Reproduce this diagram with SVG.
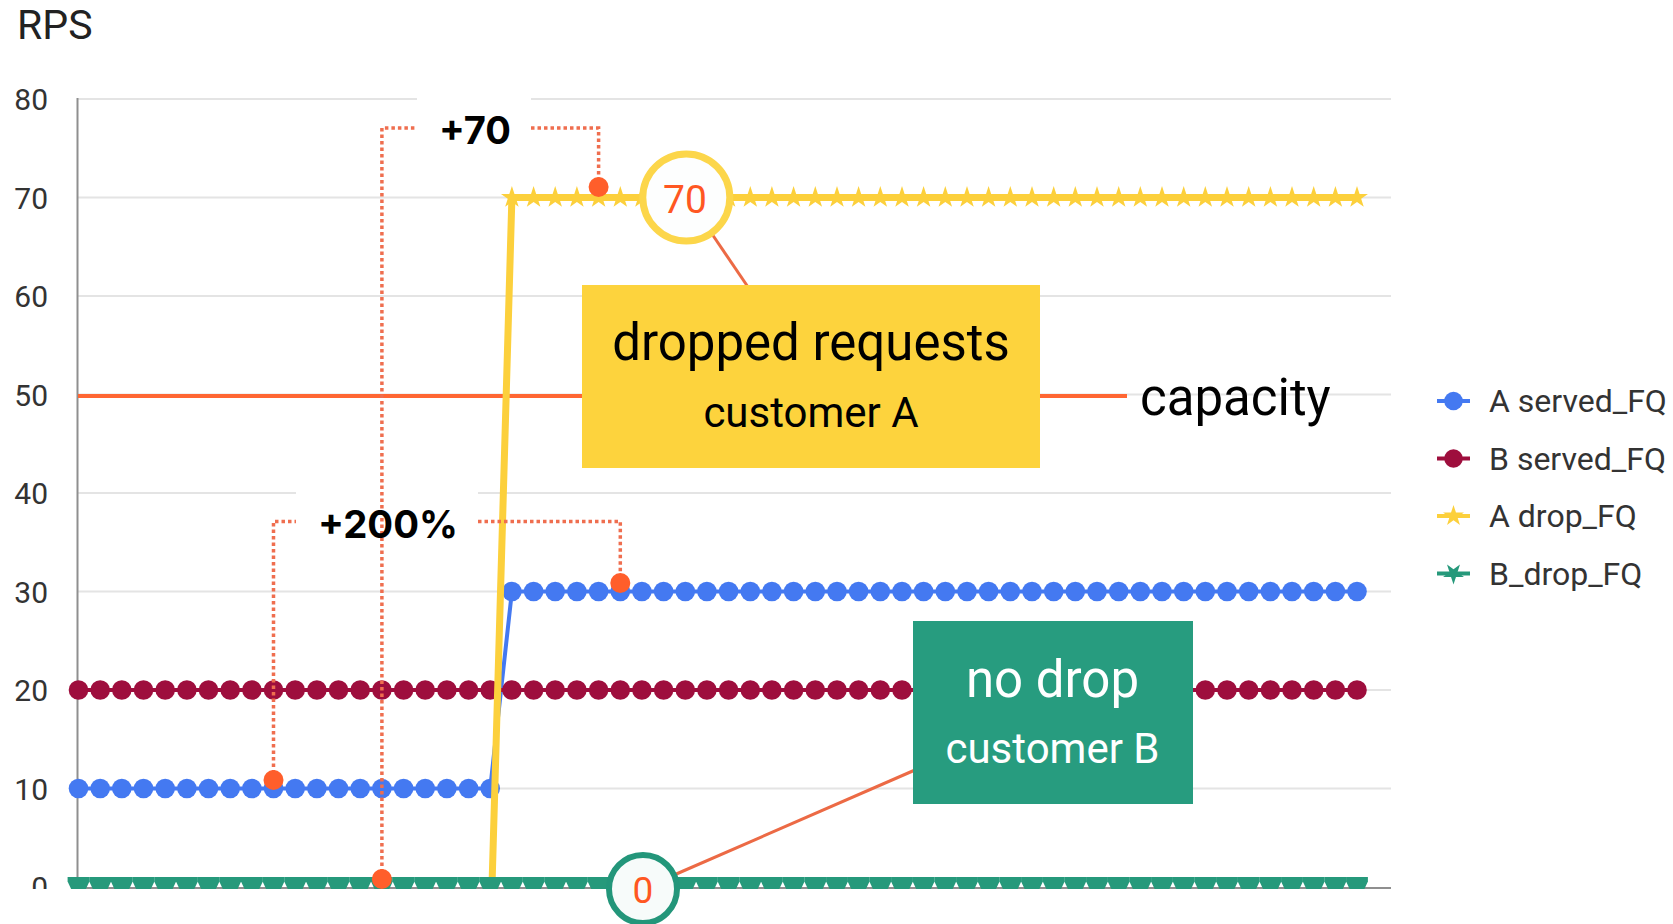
<svg xmlns="http://www.w3.org/2000/svg" xmlns:xlink="http://www.w3.org/1999/xlink" width="1673" height="924" viewBox="0 0 1673 924">
  <style>
    .grid { stroke: #e4e4e4; stroke-width: 2; }
    .axis { stroke: #8f8f8f; stroke-width: 2; }
    .tick { font-family: Roboto, "Liberation Sans", sans-serif; font-size: 30px; fill: #333; text-anchor: end; }
    .leg { font-family: Roboto, "Liberation Sans", sans-serif; font-size: 32px; fill: #333; }
    .big { font-family: Roboto, "Liberation Sans", sans-serif; font-size: 51px; text-anchor: middle; }
    .sub { font-family: Roboto, "Liberation Sans", sans-serif; font-size: 42px; text-anchor: middle; }
    .delta { font-family: Inter, "Open Sans", "Liberation Sans", sans-serif; font-size: 38px; font-weight: 700; fill: #000; }
    .dotted { fill: none; stroke: #ef6e4f; stroke-width: 3.5; stroke-dasharray: 3.5 3; }
    .leader { stroke: #ec6a45; stroke-width: 3; }
    .pin { fill: #ff5e2b; }
    .sA { stroke: #4479f1; fill: none; stroke-width: 4; }
    .sB { stroke: #9e0e3d; fill: none; stroke-width: 4; }
    .dA { stroke: #fcd03c; fill: none; stroke-width: 7; }
  </style>
  <defs>
    <circle id="dotA" r="9.8" fill="#4479f1"/>
    <circle id="dotB" r="9.8" fill="#9e0e3d"/>
    <path id="star" d="M0,-11.5 L2.57,-3.55 L10.94,-3.55 L4.16,1.36 L6.76,9.3 L0,4.39 L-6.76,9.3 L-4.16,1.36 L-10.94,-3.55 L-2.57,-3.55 Z" fill="#fcd03c"/>
    <path id="star11" d="M0,-11 L2.47,-3.4 L10.46,-3.4 L3.98,1.3 L6.47,8.9 L0,4.2 L-6.47,8.9 L-3.98,1.3 L-10.46,-3.4 L-2.47,-3.4 Z"/>
    <path id="wedge" d="M-10.9,-10 L10.9,-10 L10.9,-5.5 L7.4,2 L-7.4,2 L-10.9,-5.5 Z" fill="#26997b"/>
    <clipPath id="plotClip"><rect x="0" y="0" width="1673" height="889"/></clipPath>
  </defs>

  <rect width="1673" height="924" fill="#fff"/>

  <!-- axes, grid and tick labels -->
  <g id="axes">
    <text x="17" y="39" font-family="Roboto, 'Liberation Sans', sans-serif" font-size="41" fill="#222">RPS</text>
    <g class="grid">
      <line x1="78" y1="99" x2="1391" y2="99"/>
      <line x1="78" y1="197.5" x2="1391" y2="197.5"/>
      <line x1="78" y1="296" x2="1391" y2="296"/>
      <line x1="78" y1="394.5" x2="1391" y2="394.5"/>
      <line x1="78" y1="493" x2="1391" y2="493"/>
      <line x1="78" y1="591.5" x2="1391" y2="591.5"/>
      <line x1="78" y1="690" x2="1391" y2="690"/>
      <line x1="78" y1="788.5" x2="1391" y2="788.5"/>
    </g>
    <line class="axis" x1="77.5" y1="98" x2="77.5" y2="888"/>
    <line class="axis" x1="77" y1="888" x2="1391" y2="888"/>
    <text class="tick" x="48" y="110">80</text>
    <text class="tick" x="48" y="208.5">70</text>
    <text class="tick" x="48" y="307">60</text>
    <text class="tick" x="48" y="405.5">50</text>
    <text class="tick" x="48" y="504">40</text>
    <text class="tick" x="48" y="602.5">30</text>
    <text class="tick" x="48" y="701">20</text>
    <text class="tick" x="48" y="799.5">10</text>
    <text class="tick" x="48" y="898" clip-path="url(#plotClip)">0</text>
  </g>

  <!-- capacity threshold -->
  <g id="capacity">
    <line x1="78" y1="396" x2="1127" y2="396" stroke="#ff6633" stroke-width="4"/>
    <text x="1140" y="415" font-family="Roboto, 'Liberation Sans', sans-serif" font-size="51" fill="#000">capacity</text>
  </g>

  <!-- blank backing behind the delta labels -->
  <rect x="417" y="92" width="114" height="56" fill="#fff"/>
  <rect x="296" y="486" width="182" height="56" fill="#fff"/>

  <!-- data series -->
  <g id="series" clip-path="url(#plotClip)">
    <g id="series-a-served">
      <polyline class="sA" points="78.5,788.5 490.2,788.5 511.9,591.5 1357,591.5"/>
      <use href="#dotA" x="78.5" y="788.5"/><use href="#dotA" x="100.2" y="788.5"/><use href="#dotA" x="121.8" y="788.5"/><use href="#dotA" x="143.5" y="788.5"/><use href="#dotA" x="165.2" y="788.5"/>
      <use href="#dotA" x="186.9" y="788.5"/><use href="#dotA" x="208.5" y="788.5"/><use href="#dotA" x="230.2" y="788.5"/><use href="#dotA" x="251.9" y="788.5"/><use href="#dotA" x="273.5" y="788.5"/>
      <use href="#dotA" x="295.2" y="788.5"/><use href="#dotA" x="316.9" y="788.5"/><use href="#dotA" x="338.5" y="788.5"/><use href="#dotA" x="360.2" y="788.5"/><use href="#dotA" x="381.9" y="788.5"/>
      <use href="#dotA" x="403.6" y="788.5"/><use href="#dotA" x="425.2" y="788.5"/><use href="#dotA" x="446.9" y="788.5"/><use href="#dotA" x="468.6" y="788.5"/><use href="#dotA" x="490.2" y="788.5"/>
      <use href="#dotA" x="511.9" y="591.5"/><use href="#dotA" x="533.6" y="591.5"/><use href="#dotA" x="555.2" y="591.5"/><use href="#dotA" x="576.9" y="591.5"/><use href="#dotA" x="598.6" y="591.5"/>
      <use href="#dotA" x="620.3" y="591.5"/><use href="#dotA" x="641.9" y="591.5"/><use href="#dotA" x="663.6" y="591.5"/><use href="#dotA" x="685.3" y="591.5"/><use href="#dotA" x="706.9" y="591.5"/>
      <use href="#dotA" x="728.6" y="591.5"/><use href="#dotA" x="750.3" y="591.5"/><use href="#dotA" x="771.9" y="591.5"/><use href="#dotA" x="793.6" y="591.5"/><use href="#dotA" x="815.3" y="591.5"/>
      <use href="#dotA" x="837" y="591.5"/><use href="#dotA" x="858.6" y="591.5"/><use href="#dotA" x="880.3" y="591.5"/><use href="#dotA" x="902" y="591.5"/><use href="#dotA" x="923.6" y="591.5"/>
      <use href="#dotA" x="945.3" y="591.5"/><use href="#dotA" x="967" y="591.5"/><use href="#dotA" x="988.6" y="591.5"/><use href="#dotA" x="1010.3" y="591.5"/><use href="#dotA" x="1032" y="591.5"/>
      <use href="#dotA" x="1053.7" y="591.5"/><use href="#dotA" x="1075.3" y="591.5"/><use href="#dotA" x="1097" y="591.5"/><use href="#dotA" x="1118.7" y="591.5"/><use href="#dotA" x="1140.3" y="591.5"/>
      <use href="#dotA" x="1162" y="591.5"/><use href="#dotA" x="1183.7" y="591.5"/><use href="#dotA" x="1205.3" y="591.5"/><use href="#dotA" x="1227" y="591.5"/><use href="#dotA" x="1248.7" y="591.5"/>
      <use href="#dotA" x="1270.4" y="591.5"/><use href="#dotA" x="1292" y="591.5"/><use href="#dotA" x="1313.7" y="591.5"/><use href="#dotA" x="1335.4" y="591.5"/><use href="#dotA" x="1357" y="591.5"/>
    </g>
    <g id="series-b-served">
      <polyline class="sB" points="78.5,690 1357,690"/>
      <use href="#dotB" x="78.5" y="690"/><use href="#dotB" x="100.2" y="690"/><use href="#dotB" x="121.8" y="690"/><use href="#dotB" x="143.5" y="690"/><use href="#dotB" x="165.2" y="690"/>
      <use href="#dotB" x="186.9" y="690"/><use href="#dotB" x="208.5" y="690"/><use href="#dotB" x="230.2" y="690"/><use href="#dotB" x="251.9" y="690"/><use href="#dotB" x="273.5" y="690"/>
      <use href="#dotB" x="295.2" y="690"/><use href="#dotB" x="316.9" y="690"/><use href="#dotB" x="338.5" y="690"/><use href="#dotB" x="360.2" y="690"/><use href="#dotB" x="381.9" y="690"/>
      <use href="#dotB" x="403.6" y="690"/><use href="#dotB" x="425.2" y="690"/><use href="#dotB" x="446.9" y="690"/><use href="#dotB" x="468.6" y="690"/><use href="#dotB" x="490.2" y="690"/>
      <use href="#dotB" x="511.9" y="690"/><use href="#dotB" x="533.6" y="690"/><use href="#dotB" x="555.2" y="690"/><use href="#dotB" x="576.9" y="690"/><use href="#dotB" x="598.6" y="690"/>
      <use href="#dotB" x="620.3" y="690"/><use href="#dotB" x="641.9" y="690"/><use href="#dotB" x="663.6" y="690"/><use href="#dotB" x="685.3" y="690"/><use href="#dotB" x="706.9" y="690"/>
      <use href="#dotB" x="728.6" y="690"/><use href="#dotB" x="750.3" y="690"/><use href="#dotB" x="771.9" y="690"/><use href="#dotB" x="793.6" y="690"/><use href="#dotB" x="815.3" y="690"/>
      <use href="#dotB" x="837" y="690"/><use href="#dotB" x="858.6" y="690"/><use href="#dotB" x="880.3" y="690"/><use href="#dotB" x="902" y="690"/><use href="#dotB" x="923.6" y="690"/>
      <use href="#dotB" x="945.3" y="690"/><use href="#dotB" x="967" y="690"/><use href="#dotB" x="988.6" y="690"/><use href="#dotB" x="1010.3" y="690"/><use href="#dotB" x="1032" y="690"/>
      <use href="#dotB" x="1053.7" y="690"/><use href="#dotB" x="1075.3" y="690"/><use href="#dotB" x="1097" y="690"/><use href="#dotB" x="1118.7" y="690"/><use href="#dotB" x="1140.3" y="690"/>
      <use href="#dotB" x="1162" y="690"/><use href="#dotB" x="1183.7" y="690"/><use href="#dotB" x="1205.3" y="690"/><use href="#dotB" x="1227" y="690"/><use href="#dotB" x="1248.7" y="690"/>
      <use href="#dotB" x="1270.4" y="690"/><use href="#dotB" x="1292" y="690"/><use href="#dotB" x="1313.7" y="690"/><use href="#dotB" x="1335.4" y="690"/><use href="#dotB" x="1357" y="690"/>
    </g>
    <g id="series-a-drop">
      <polyline class="dA" points="492,886 511.9,197.5 1357,197.5"/>
      <use href="#star" x="511.9" y="197.5"/><use href="#star" x="533.6" y="197.5"/><use href="#star" x="555.2" y="197.5"/><use href="#star" x="576.9" y="197.5"/><use href="#star" x="598.6" y="197.5"/>
      <use href="#star" x="620.3" y="197.5"/><use href="#star" x="641.9" y="197.5"/><use href="#star" x="663.6" y="197.5"/><use href="#star" x="685.3" y="197.5"/><use href="#star" x="706.9" y="197.5"/>
      <use href="#star" x="728.6" y="197.5"/><use href="#star" x="750.3" y="197.5"/><use href="#star" x="771.9" y="197.5"/><use href="#star" x="793.6" y="197.5"/><use href="#star" x="815.3" y="197.5"/>
      <use href="#star" x="837" y="197.5"/><use href="#star" x="858.6" y="197.5"/><use href="#star" x="880.3" y="197.5"/><use href="#star" x="902" y="197.5"/><use href="#star" x="923.6" y="197.5"/>
      <use href="#star" x="945.3" y="197.5"/><use href="#star" x="967" y="197.5"/><use href="#star" x="988.6" y="197.5"/><use href="#star" x="1010.3" y="197.5"/><use href="#star" x="1032" y="197.5"/>
      <use href="#star" x="1053.7" y="197.5"/><use href="#star" x="1075.3" y="197.5"/><use href="#star" x="1097" y="197.5"/><use href="#star" x="1118.7" y="197.5"/><use href="#star" x="1140.3" y="197.5"/>
      <use href="#star" x="1162" y="197.5"/><use href="#star" x="1183.7" y="197.5"/><use href="#star" x="1205.3" y="197.5"/><use href="#star" x="1227" y="197.5"/><use href="#star" x="1248.7" y="197.5"/>
      <use href="#star" x="1270.4" y="197.5"/><use href="#star" x="1292" y="197.5"/><use href="#star" x="1313.7" y="197.5"/><use href="#star" x="1335.4" y="197.5"/><use href="#star" x="1357" y="197.5"/>
    </g>
    <g id="series-b-drop">
      <use href="#wedge" x="78.5" y="887"/><use href="#wedge" x="100.2" y="887"/><use href="#wedge" x="121.8" y="887"/><use href="#wedge" x="143.5" y="887"/><use href="#wedge" x="165.2" y="887"/>
      <use href="#wedge" x="186.9" y="887"/><use href="#wedge" x="208.5" y="887"/><use href="#wedge" x="230.2" y="887"/><use href="#wedge" x="251.9" y="887"/><use href="#wedge" x="273.5" y="887"/>
      <use href="#wedge" x="295.2" y="887"/><use href="#wedge" x="316.9" y="887"/><use href="#wedge" x="338.5" y="887"/><use href="#wedge" x="360.2" y="887"/><use href="#wedge" x="381.9" y="887"/>
      <use href="#wedge" x="403.6" y="887"/><use href="#wedge" x="425.2" y="887"/><use href="#wedge" x="446.9" y="887"/><use href="#wedge" x="468.6" y="887"/><use href="#wedge" x="490.2" y="887"/>
      <use href="#wedge" x="511.9" y="887"/><use href="#wedge" x="533.6" y="887"/><use href="#wedge" x="555.2" y="887"/><use href="#wedge" x="576.9" y="887"/><use href="#wedge" x="598.6" y="887"/>
      <use href="#wedge" x="620.3" y="887"/><use href="#wedge" x="641.9" y="887"/><use href="#wedge" x="663.6" y="887"/><use href="#wedge" x="685.3" y="887"/><use href="#wedge" x="706.9" y="887"/>
      <use href="#wedge" x="728.6" y="887"/><use href="#wedge" x="750.3" y="887"/><use href="#wedge" x="771.9" y="887"/><use href="#wedge" x="793.6" y="887"/><use href="#wedge" x="815.3" y="887"/>
      <use href="#wedge" x="837" y="887"/><use href="#wedge" x="858.6" y="887"/><use href="#wedge" x="880.3" y="887"/><use href="#wedge" x="902" y="887"/><use href="#wedge" x="923.6" y="887"/>
      <use href="#wedge" x="945.3" y="887"/><use href="#wedge" x="967" y="887"/><use href="#wedge" x="988.6" y="887"/><use href="#wedge" x="1010.3" y="887"/><use href="#wedge" x="1032" y="887"/>
      <use href="#wedge" x="1053.7" y="887"/><use href="#wedge" x="1075.3" y="887"/><use href="#wedge" x="1097" y="887"/><use href="#wedge" x="1118.7" y="887"/><use href="#wedge" x="1140.3" y="887"/>
      <use href="#wedge" x="1162" y="887"/><use href="#wedge" x="1183.7" y="887"/><use href="#wedge" x="1205.3" y="887"/><use href="#wedge" x="1227" y="887"/><use href="#wedge" x="1248.7" y="887"/>
      <use href="#wedge" x="1270.4" y="887"/><use href="#wedge" x="1292" y="887"/><use href="#wedge" x="1313.7" y="887"/><use href="#wedge" x="1335.4" y="887"/><use href="#wedge" x="1357" y="887"/>
    </g>
  </g>

  <!-- connectors: dotted brackets and callout leaders -->
  <g id="connectors">
    <polyline class="dotted" points="381.9,879 381.9,128 417,128"/>
    <polyline class="dotted" points="531,128 598.6,128 598.6,187"/>
    <polyline class="dotted" points="273.5,780 273.5,521.5 296,521.5"/>
    <polyline class="dotted" points="478,521.5 620.3,521.5 620.3,583"/>
    <line class="leader" x1="712" y1="234" x2="748" y2="287"/>
    <line class="leader" x1="674" y1="875" x2="915" y2="770"/>
  </g>

  <!-- marked points -->
  <g id="pins">
    <circle class="pin" cx="598.6" cy="187" r="10"/>
    <circle class="pin" cx="381.9" cy="879" r="10"/>
    <circle class="pin" cx="273.5" cy="780" r="10"/>
    <circle class="pin" cx="620.3" cy="583" r="10"/>
  </g>

  <g id="label-plus70">
    <text class="delta" x="439" y="144" textLength="72" lengthAdjust="spacingAndGlyphs">+70</text>
  </g>
  <g id="label-plus200">
    <text class="delta" x="318" y="538" textLength="140" lengthAdjust="spacingAndGlyphs">+200%</text>
  </g>

  <g id="badge-70">
    <circle cx="686.3" cy="197.5" r="43.5" fill="#fdfefe" stroke="#fcd64a" stroke-width="7"/>
    <text x="685" y="212.5" font-family="Roboto, 'Liberation Sans', sans-serif" font-size="39" fill="#ff5722" text-anchor="middle">70</text>
  </g>

  <g id="badge-0">
    <circle cx="643" cy="889" r="34" fill="#f7fbfa" stroke="#23967a" stroke-width="6"/>
    <text x="643" y="903" font-family="Roboto, 'Liberation Sans', sans-serif" font-size="37" fill="#ff5722" text-anchor="middle">0</text>
  </g>

  <g id="callout-dropped">
    <rect x="582" y="285" width="458" height="183" fill="#fdd33d"/>
    <text class="big" x="811" y="360" fill="#000">dropped requests</text>
    <text class="sub" x="811" y="427" fill="#000">customer A</text>
  </g>

  <g id="callout-nodrop">
    <rect x="913" y="621" width="280" height="183" fill="#279c7f"/>
    <text class="big" x="1052.5" y="697" fill="#fff">no drop</text>
    <text class="sub" x="1052.5" y="763" fill="#fff">customer B</text>
  </g>

  <!-- legend -->
  <g id="legend">
    <g id="legend-a-served">
      <line x1="1437" y1="401" x2="1470" y2="401" stroke="#4479f1" stroke-width="4"/>
      <circle cx="1453.5" cy="401" r="9.3" fill="#4479f1"/>
      <text class="leg" x="1489" y="412">A served_FQ</text>
    </g>
    <g id="legend-b-served">
      <line x1="1437" y1="458.5" x2="1470" y2="458.5" stroke="#9e0e3d" stroke-width="4"/>
      <circle cx="1453.5" cy="458.5" r="9.3" fill="#9e0e3d"/>
      <text class="leg" x="1489" y="469.5">B served_FQ</text>
    </g>
    <g id="legend-a-drop">
      <line x1="1437" y1="516" x2="1470" y2="516" stroke="#fcd03c" stroke-width="4"/>
      <use href="#star11" x="1453.5" y="516" fill="#fcd03c"/>
      <text class="leg" x="1489" y="527">A drop_FQ</text>
    </g>
    <g id="legend-b-drop">
      <line x1="1437" y1="573.5" x2="1470" y2="573.5" stroke="#26997b" stroke-width="4"/>
      <use href="#star11" transform="translate(1453.5,573.5) scale(1,-1)" fill="#26997b"/>
      <text class="leg" x="1489" y="584.5">B_drop_FQ</text>
    </g>
  </g>
</svg>
